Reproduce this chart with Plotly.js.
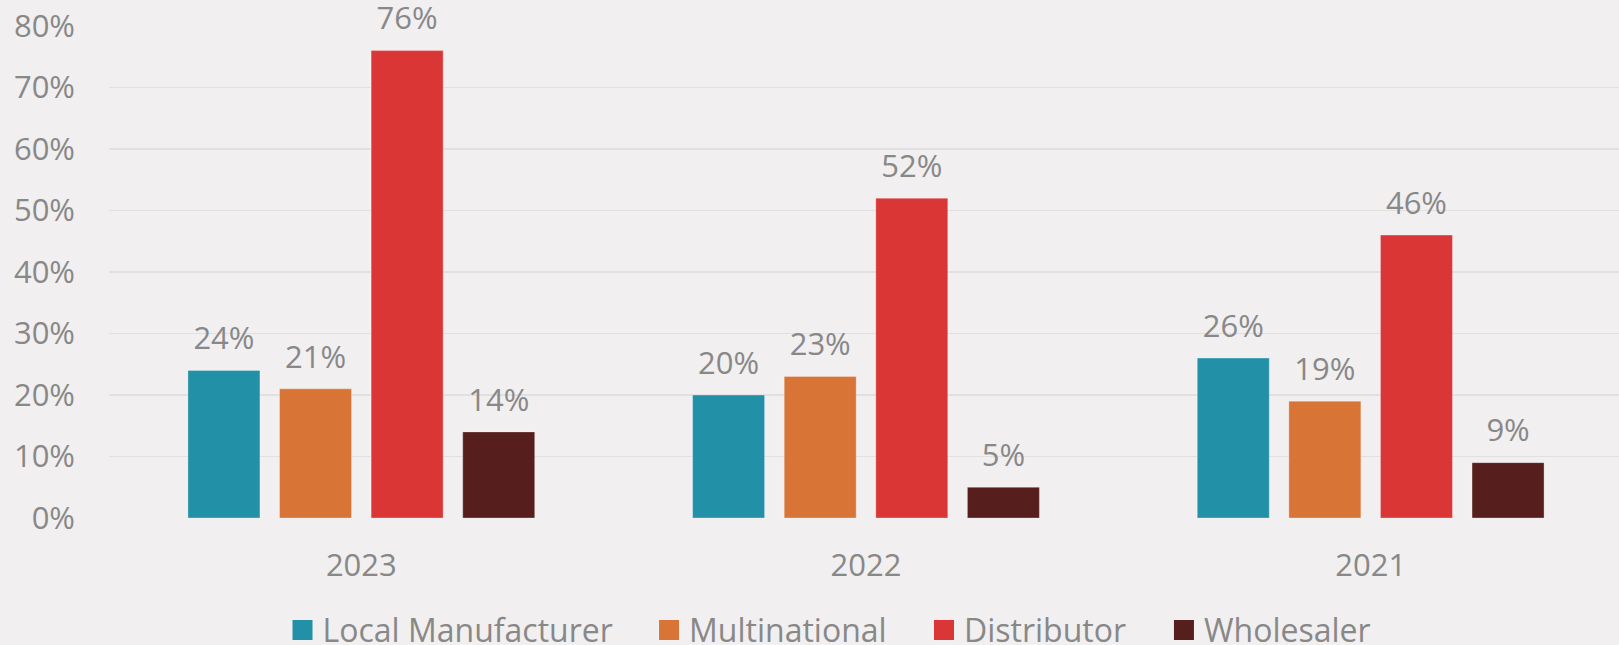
<!DOCTYPE html>
<html>
<head>
<meta charset="utf-8">
<script src="https://cdn.plot.ly/plotly-3.0.1.min.js"></script>
<style>
html,body{margin:0;padding:0;background:#F1EFF0;overflow:hidden;}
#chart{width:1623px;height:645px;}
</style>
</head>
<body>
<div id="chart"></div>
<script>
const years = ["2023", "2022", "2021"];
const seriesNames = ["Local Manufacturer", "Multinational", "Distributor", "Wholesaler"];
const localManufacturer = [0.24, 0.20, 0.26];
const multinational = [0.21, 0.23, 0.19];
const distributor = [0.76, 0.52, 0.46];
const wholesaler = [0.14, 0.05, 0.09];
const seriesValues = [localManufacturer, multinational, distributor, wholesaler];
const colors = ["#2290A6", "#D87536", "#DA3635", "#571E1E"];
const yTickVals = [0, 0.1, 0.2, 0.3, 0.4, 0.5, 0.6, 0.7, 0.8];

const FONT = "'Open Sans', 'Noto Sans', sans-serif";
const GREY = "#888888";
const BARGAP = 0.274;

const traces = [];
seriesValues.forEach((vals, i) => {
  traces.push({
    type: "bar",
    x: years,
    y: vals,
    name: seriesNames[i],
    marker: {color: colors[i], line: {color: "rgba(255,255,255,0.3)", width: 1}},
    showlegend: false,
    hoverinfo: "skip"
  });
});
seriesValues.forEach((vals, i) => {
  traces.push({
    type: "scatter",
    mode: "markers+text",
    x: years,
    y: vals,
    offsetgroup: "s" + i,
    alignmentgroup: "labels",
    marker: {size: 20, opacity: 0, color: colors[i]},
    text: vals.map(v => Math.round(v * 100) + "%"),
    textposition: "top center",
    textfont: {family: FONT, size: 31, color: GREY},
    cliponaxis: false,
    showlegend: false,
    hoverinfo: "skip"
  });
});
seriesValues.forEach((vals, i) => {
  traces.push({
    type: "scatter",
    mode: "markers",
    x: [null],
    y: [null],
    xaxis: "x2",
    yaxis: "y2",
    name: seriesNames[i],
    legend: i === 0 ? "legend" : "legend" + (i + 1),
    marker: {symbol: "square", size: 16, color: colors[i], line: {color: colors[i], width: 4}},
    hoverinfo: "skip"
  });
});

const legendX = [0.1146, 0.3567, 0.5383, 0.6968];
function legendDef(x) {
  return {
    orientation: "h", x: x, xanchor: "left", y: -0.228, yanchor: "middle",
    bgcolor: "rgba(0,0,0,0)", borderwidth: 0,
    font: {family: FONT, size: 32, color: GREY}
  };
}

const layout = {
  width: 1623,
  height: 645,
  margin: {l: 109, r: 0, t: 26, b: 127, autoexpand: false},
  paper_bgcolor: "#F1EFF0",
  plot_bgcolor: "#F1EFF0",
  barmode: "group",
  bargap: BARGAP,
  bargroupgap: 0.214,
  scattermode: "group",
  scattergap: BARGAP,
  font: {family: FONT, size: 31, color: GREY},
  xaxis: {
    type: "category",
    showgrid: false,
    zeroline: false,
    showline: false,
    ticks: "",
    ticklabelstandoff: 26,
    tickfont: {family: FONT, size: 31, color: GREY}
  },
  yaxis: {
    range: [0, 0.8],
    tickvals: yTickVals,
    tickformat: ".0%",
    showgrid: true,
    gridcolor: "#E1DFE0",
    gridwidth: 1.5,
    zeroline: false,
    showline: false,
    ticks: "",
    ticklabelstandoff: 33,
    tickfont: {family: FONT, size: 31, color: GREY}
  },
  xaxis2: {overlaying: "x", visible: false, range: [0, 1]},
  yaxis2: {overlaying: "y", visible: false, range: [0, 1]},
  legend: legendDef(legendX[0]),
  legend2: legendDef(legendX[1]),
  legend3: legendDef(legendX[2]),
  legend4: legendDef(legendX[3]),
  showlegend: true
};

Plotly.newPlot("chart", traces, layout, {displayModeBar: false, staticPlot: true});
</script>
</body>
</html>
